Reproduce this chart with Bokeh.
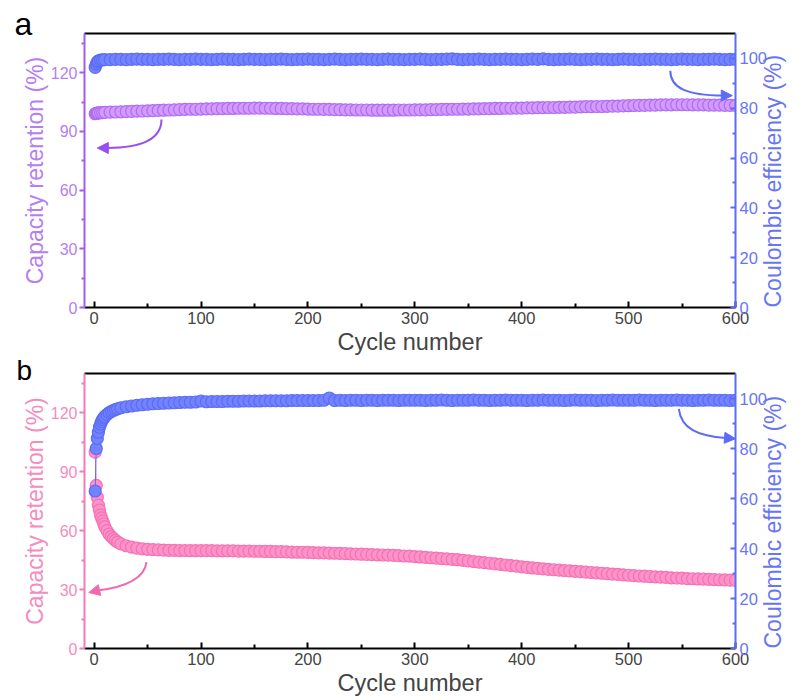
import math
from bokeh.plotting import figure
from bokeh.models import LinearAxis, Range1d, FixedTicker, Label, Arrow, NormalHead
from bokeh.layouts import column
from bokeh.embed import file_html
from bokeh.resources import INLINE

# ---------------- data ----------------
cycles_a = [1, 2, 3, 4, 6, 8, 10] + list(range(15, 601, 5))
capacity_a = [99.0, 99.2, 99.3, 99.4, 99.5, 99.6, 99.7,
              99.8, 99.9, 100.0, 100.1, 100.2, 100.3, 100.4, 100.5, 100.6, 100.7, 100.8, 100.9, 101.0, 101.1, 101.2, 101.3, 101.3, 101.4,
              101.5, 101.5, 101.6, 101.6, 101.7, 101.7, 101.8, 101.8, 101.8, 101.9, 101.9, 101.8, 101.8, 101.7, 101.7, 101.6, 101.6, 101.5, 101.5, 101.4,
              101.3, 101.3, 101.2, 101.2, 101.1, 101.1, 101.0, 101.0, 100.9, 100.9, 100.9, 100.8, 100.8, 100.8, 100.8, 100.8, 100.9, 100.9, 100.9, 101.0,
              101.0, 101.0, 101.1, 101.1, 101.2, 101.2, 101.3, 101.3, 101.4, 101.4, 101.5, 101.5, 101.6, 101.6, 101.7, 101.7, 101.8, 101.8, 101.9, 101.9,
              102.0, 102.0, 102.1, 102.1, 102.2, 102.2, 102.3, 102.3, 102.4, 102.4, 102.5, 102.6, 102.6, 102.7, 102.7, 102.8, 102.9, 102.9, 103.0, 103.1,
              103.2, 103.3, 103.3, 103.4, 103.4, 103.5, 103.5, 103.5, 103.6, 103.6, 103.6, 103.5, 103.5, 103.5, 103.4, 103.4, 103.4, 103.3, 103.3, 103.3]
ce_a = [96.4, 97.8, 98.6, 99.0, 99.3, 99.4, 99.5,
        99.5, 99.6, 99.6, 99.5, 99.6, 99.7, 99.6, 99.6, 99.5, 99.6, 99.6, 99.7, 99.6, 99.5, 99.6, 99.6, 99.7, 99.6,
        99.6, 99.5, 99.6, 99.7, 99.6, 99.6, 99.5, 99.6, 99.7, 99.6, 99.6, 99.5, 99.6, 99.6, 99.7, 99.6, 99.5, 99.6, 99.6, 99.7,
        99.6, 99.6, 99.5, 99.6, 99.7, 99.6, 99.5, 99.6, 99.6, 99.7, 99.6, 99.6, 99.5, 99.6, 99.7, 99.6, 99.6, 99.5, 99.6, 99.6,
        99.7, 99.6, 99.5, 99.6, 99.6, 99.7, 99.8, 99.6, 99.5, 99.6, 99.6, 99.7, 99.6, 99.5, 99.6, 99.6, 99.7, 99.6, 99.6, 99.5,
        99.6, 99.7, 99.6, 99.8, 99.6, 99.5, 99.6, 99.6, 99.7, 99.6, 99.5, 99.6, 99.6, 99.7, 99.6, 99.6, 99.5, 99.6, 99.7, 99.6,
        99.6, 99.5, 99.6, 99.6, 99.7, 99.6, 99.6, 99.5, 99.6, 99.7, 99.6, 99.6, 99.5, 99.6, 99.6, 99.7, 99.6, 99.5, 99.6, 99.6]

cycles_b = [1, 2, 3, 4, 5, 6, 7, 8, 9, 10, 12, 14, 16, 18, 20, 22, 25] + list(range(30, 601, 5))
capacity_b = [100.0, 83.0, 77.0, 73.0, 70.5, 68.0, 66.5, 65.0, 63.5, 62.0, 60.0, 58.3, 57.0, 56.0, 55.0, 54.2, 53.3,
              52.3, 51.6, 51.1, 50.7, 50.5, 50.3, 50.2, 50.1, 50.0, 50.0, 49.9, 49.9, 49.8, 49.8, 49.8,
              49.8, 49.8, 49.7, 49.7, 49.7, 49.7, 49.6, 49.6, 49.6, 49.5, 49.5, 49.4, 49.4, 49.3, 49.3, 49.2, 49.1, 49.0, 49.0, 48.9,
              48.8, 48.7, 48.7, 48.6, 48.5, 48.4, 48.3, 48.2, 48.1, 48.0, 47.9, 47.8, 47.7, 47.6, 47.5, 47.4, 47.3, 47.1, 47.0, 46.8,
              46.6, 46.4, 46.2, 46.0, 45.8, 45.6, 45.4, 45.2, 44.9, 44.6, 44.3, 44.0, 43.7, 43.4, 43.1, 42.8, 42.5, 42.2, 41.9, 41.6,
              41.3, 41.0, 40.8, 40.5, 40.3, 40.1, 39.9, 39.7, 39.5, 39.3, 39.1, 38.9, 38.7, 38.5, 38.3, 38.1, 37.9, 37.7, 37.5, 37.3,
              37.1, 36.9, 36.8, 36.6, 36.5, 36.3, 36.2, 36.0, 35.9, 35.8, 35.6, 35.5, 35.4, 35.3, 35.2, 35.1, 35.0, 34.9, 34.8, 34.7]
ce_b = [63.0, 80.0, 84.0, 86.5, 88.5, 89.8, 90.8, 91.6, 92.2, 92.8, 93.6, 94.3, 94.8, 95.2, 95.6, 95.9, 96.3,
        96.7, 97.0, 97.3, 97.5, 97.7, 97.9, 98.0, 98.1, 98.2, 98.3, 98.4, 98.5, 98.5, 98.6, 99.0,
        98.7, 98.8, 98.8, 98.8, 98.9, 98.9, 98.9, 99.0, 99.0, 99.0, 99.0, 99.1, 99.1, 99.1, 99.1, 99.1, 99.2, 99.2, 99.2, 99.2,
        99.2, 99.2, 99.3, 100.2, 99.2, 99.3, 99.2, 99.3, 99.3, 99.2, 99.3, 99.3, 99.2, 99.3, 99.3, 99.3, 99.2, 99.3, 99.3, 99.3,
        99.3, 99.2, 99.3, 99.3, 99.4, 99.3, 99.2, 99.3, 99.3, 99.3, 99.4, 99.3, 99.3, 99.2, 99.3, 99.3, 99.4, 99.3, 99.3, 99.3,
        99.2, 99.3, 99.3, 99.4, 99.3, 99.3, 99.3, 99.2, 99.3, 99.4, 99.3, 99.3, 99.3, 99.2, 99.3, 99.3, 99.4, 99.3, 99.3, 99.3,
        99.3, 99.4, 99.3, 99.3, 99.2, 99.3, 99.3, 99.3, 99.4, 99.3, 99.3, 99.2, 99.3, 99.3, 99.4, 99.3, 99.3, 99.3, 99.2, 99.3]

x_ticks = [0, 100, 200, 300, 400, 500, 600]
x_minor = [50, 150, 250, 350, 450, 550]
left_ticks = [0, 30, 60, 90, 120]
left_minor = [15, 45, 75, 105, 135]
right_ticks = [0, 20, 40, 60, 80, 100]
right_minor = [10, 30, 50, 70, 90]
panel_letters = ["a", "b"]

FONT = "Liberation Sans"
BLUE = "#5b6cf6"
BLUE_FILL = "#7383ff"
BLUE_TXT = "#6876f5"


def panel(letter, cyc, cap, ce, cap_fill, cap_edge, cap_axis, cap_txt,
          height, top, bottom, arrows, letter_y, letter_size):
    p = figure(width=802, height=height, output_backend="svg", toolbar_location=None,
               x_range=Range1d(-9, 600), y_range=Range1d(0, 140),
               min_border_left=77, min_border_right=67, min_border_top=top,
               min_border_bottom=bottom, background_fill_color="white",
               border_fill_color="white", outline_line_color=None)
    p.grid.visible = False
    p.extra_y_ranges = {"ce": Range1d(0, 110)}

    # bottom axis
    xa = p.xaxis[0]
    xa.ticker = FixedTicker(ticks=x_ticks, minor_ticks=x_minor)
    xa.axis_label = "Cycle number"
    xa.axis_label_text_font = FONT
    xa.axis_label_text_font_style = "normal"
    xa.axis_label_text_font_size = "23.5px"
    xa.axis_label_standoff = 2
    xa.major_label_text_font = FONT
    xa.major_label_text_font_size = "16.5px"
    xa.major_label_standoff = 4
    xa.axis_line_width = 2
    xa.axis_line_color = "black"
    xa.major_tick_in = 6
    xa.major_tick_out = 0
    xa.minor_tick_in = 4
    xa.minor_tick_out = 0
    xa.major_tick_line_width = 2
    xa.minor_tick_line_width = 2

    # left axis (kept compact: the panel letter sits in the same side panel)
    ya = p.yaxis[0]
    ya.ticker = FixedTicker(ticks=left_ticks, minor_ticks=left_minor)
    ya.axis_label = "Capacity retention (%)"
    ya.axis_label_text_color = cap_txt
    ya.axis_label_text_font = FONT
    ya.axis_label_text_font_style = "normal"
    ya.axis_label_text_font_size = "23px"
    ya.axis_label_standoff = 0
    ya.major_label_text_font = FONT
    ya.major_label_text_font_size = "16px"
    ya.major_label_text_color = cap_txt
    ya.major_label_standoff = 2
    ya.axis_line_color = cap_axis
    ya.axis_line_width = 2
    ya.major_tick_line_color = cap_axis
    ya.minor_tick_line_color = cap_axis
    ya.major_tick_in = 0
    ya.major_tick_out = 5
    ya.minor_tick_in = 0
    ya.minor_tick_out = 3
    ya.major_tick_line_width = 2
    ya.minor_tick_line_width = 2

    # right axis
    ra = LinearAxis(y_range_name="ce",
                    ticker=FixedTicker(ticks=right_ticks, minor_ticks=right_minor),
                    axis_label="Coulombic efficiency (%)")
    if "axis_label_align" in ra.properties():
        ra.axis_label_orientation = math.pi / 2
        ra.axis_label_align = "start"
    ra.axis_label_text_color = BLUE_TXT
    ra.axis_label_text_font = FONT
    ra.axis_label_text_font_style = "normal"
    ra.axis_label_text_font_size = "23px"
    ra.axis_label_standoff = 3
    ra.major_label_text_font = FONT
    ra.major_label_text_font_size = "16.5px"
    ra.major_label_text_color = BLUE_TXT
    ra.major_label_standoff = 4
    ra.axis_line_color = BLUE
    ra.axis_line_width = 2
    ra.major_tick_line_color = BLUE
    ra.minor_tick_line_color = BLUE
    ra.major_tick_in = 5
    ra.major_tick_out = 0
    ra.minor_tick_in = 3
    ra.minor_tick_out = 0
    ra.major_tick_line_width = 2
    ra.minor_tick_line_width = 2
    p.add_layout(ra, "right")

    # top border line
    ta = LinearAxis(ticker=FixedTicker(ticks=[]), major_label_text_font_size="0px",
                    axis_line_color="black", axis_line_width=2,
                    major_tick_line_color=None, minor_tick_line_color=None,
                    major_tick_in=0, major_tick_out=0, minor_tick_in=0, minor_tick_out=0,
                    major_label_standoff=0)
    p.add_layout(ta, "above")

    # data
    p.line(cyc, cap, line_color=cap_edge, line_width=1)
    p.scatter(cyc, cap, marker="circle", size=12, fill_color=cap_fill,
              line_color=cap_edge, line_width=1.2)
    p.line(cyc, ce, line_color=BLUE, line_width=1, y_range_name="ce")
    p.scatter(cyc, ce, marker="circle", size=12, fill_color=BLUE_FILL,
              line_color=BLUE, line_width=1.2, y_range_name="ce")

    # arrows (positions in left-axis data units)
    for (pts, col) in arrows:
        (x0, y0), (cx0, cy0), (cx1, cy1), (x1, y1), (hx, hy) = pts
        p.bezier(x0=[x0], y0=[y0], x1=[hx], y1=[hy], cx0=[cx0], cy0=[cy0],
                 cx1=[cx1], cy1=[cy1], line_color=col, line_width=2)
        p.add_layout(Arrow(x_start=hx, y_start=hy, x_end=x1, y_end=y1,
                           line_color=col, line_width=2,
                           end=NormalHead(size=11, fill_color=col, line_color=col)))

    # panel letter, placed in the left side panel so it is not clipped by the frame
    p.add_layout(Label(x=14, y=letter_y, x_units="screen", y_units="screen",
                       text=letter, text_font=FONT, text_baseline="middle",
                       text_align="left",
                       text_font_size=letter_size, text_color="black"), "left")
    return p


arrows_a = [
    (((63, 96), (63, 86), (45, 81.5), (3, 81.5), (12, 81.5)), "#9a4df0"),
    (((539, 121), (539, 112), (555, 108.5), (597, 108.3), (588, 108.3)), BLUE),
]
arrows_b = [
    (((49, 44), (47, 35), (25, 31), (-5, 28.5), (3, 29.5)), "#f06aae"),
    (((547, 122), (549, 112), (565, 108), (600, 106.8), (591, 107.2)), BLUE),
]

pa = panel(panel_letters[0], cycles_a, capacity_a, ce_a, "#d39bff", "#b06cf2", "#a45cf0", "#b57ef2",
           358, 33, 51, arrows_a, 284, "32px")
pb = panel(panel_letters[1], cycles_b, capacity_b, ce_b, "#ff92c8", "#f273b4", "#f57ab8", "#f58cc0",
           340, 15, 50, arrows_b, 278, "28px")

layout = column(pa, pb, spacing=0)
open("out.html", "w").write(file_html(layout, INLINE))
